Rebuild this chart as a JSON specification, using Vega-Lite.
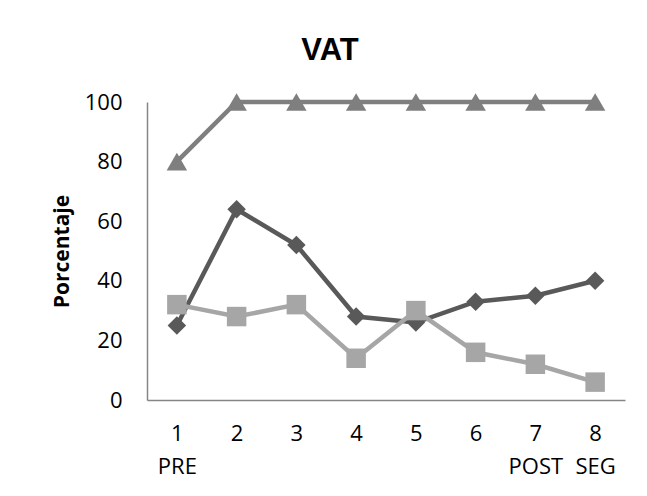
{
  "$schema": "https://vega.github.io/schema/vega-lite/v6.json",
  "autosize": {"type": "none"},
  "padding": {"left": 147, "top": 102, "right": 22, "bottom": 96},
  "width": 478,
  "height": 298,
  "background": "white",
  "title": {
    "text": "VAT",
    "font": "Liberation Sans",
    "fontSize": 31,
    "fontWeight": "bold",
    "color": "#000000",
    "anchor": "middle",
    "dx": -56,
    "offset": 24
  },
  "config": {
    "view": {"stroke": null},
    "axis": {
      "labelFont": "Open Sans",
      "labelFontSize": 22,
      "labelColor": "#000000",
      "titleFont": "Open Sans",
      "titleColor": "#000000",
      "domainColor": "#868686",
      "domainWidth": 1.5,
      "ticks": false,
      "grid": false
    }
  },
  "data": {
    "values": [
      {"sesion": 1, "serie": "Serie1", "valor": 25},
      {"sesion": 2, "serie": "Serie1", "valor": 64},
      {"sesion": 3, "serie": "Serie1", "valor": 52},
      {"sesion": 4, "serie": "Serie1", "valor": 28},
      {"sesion": 5, "serie": "Serie1", "valor": 26},
      {"sesion": 6, "serie": "Serie1", "valor": 33},
      {"sesion": 7, "serie": "Serie1", "valor": 35},
      {"sesion": 8, "serie": "Serie1", "valor": 40},
      {"sesion": 1, "serie": "Serie2", "valor": 32},
      {"sesion": 2, "serie": "Serie2", "valor": 28},
      {"sesion": 3, "serie": "Serie2", "valor": 32},
      {"sesion": 4, "serie": "Serie2", "valor": 14},
      {"sesion": 5, "serie": "Serie2", "valor": 30},
      {"sesion": 6, "serie": "Serie2", "valor": 16},
      {"sesion": 7, "serie": "Serie2", "valor": 12},
      {"sesion": 8, "serie": "Serie2", "valor": 6},
      {"sesion": 1, "serie": "Serie3", "valor": 80},
      {"sesion": 2, "serie": "Serie3", "valor": 100},
      {"sesion": 3, "serie": "Serie3", "valor": 100},
      {"sesion": 4, "serie": "Serie3", "valor": 100},
      {"sesion": 5, "serie": "Serie3", "valor": 100},
      {"sesion": 6, "serie": "Serie3", "valor": 100},
      {"sesion": 7, "serie": "Serie3", "valor": 100},
      {"sesion": 8, "serie": "Serie3", "valor": 100}
    ]
  },
  "encoding": {
    "x": {
      "field": "sesion",
      "type": "ordinal",
      "scale": {"type": "point", "padding": 0.5},
      "axis": {
        "title": null,
        "labelAngle": 0,
        "labelPadding": 23,
        "labelBaseline": "top",
        "labelLineHeight": 33,
        "labelExpr": "datum.value == 1 ? ['1', 'PRE'] : datum.value == 7 ? ['7', 'POST'] : datum.value == 8 ? ['8', 'SEG'] : datum.label"
      }
    },
    "y": {
      "field": "valor",
      "type": "quantitative",
      "scale": {"domain": [0, 100]},
      "axis": {
        "title": "Porcentaje",
        "titleFontSize": 21,
        "titleFontWeight": "bold",
        "titlePadding": 12,
        "values": [0, 20, 40, 60, 80, 100],
        "labelPadding": 25
      }
    },
    "color": {
      "field": "serie",
      "type": "nominal",
      "scale": {"domain": ["Serie1", "Serie2", "Serie3"], "range": ["#595959", "#a6a6a6", "#7f7f7f"]},
      "legend": null
    }
  },
  "layer": [
    {
      "mark": {"type": "line", "strokeWidth": 4.5}
    },
    {
      "mark": {"type": "point", "filled": true, "opacity": 1},
      "encoding": {
        "shape": {
          "field": "serie",
          "type": "nominal",
          "scale": {"domain": ["Serie1", "Serie2", "Serie3"], "range": ["diamond", "square", "triangle-up"]},
          "legend": null
        },
        "size": {
          "field": "serie",
          "type": "nominal",
          "scale": {"domain": ["Serie1", "Serie2", "Serie3"], "range": [340, 420, 440]},
          "legend": null
        }
      }
    }
  ]
}
